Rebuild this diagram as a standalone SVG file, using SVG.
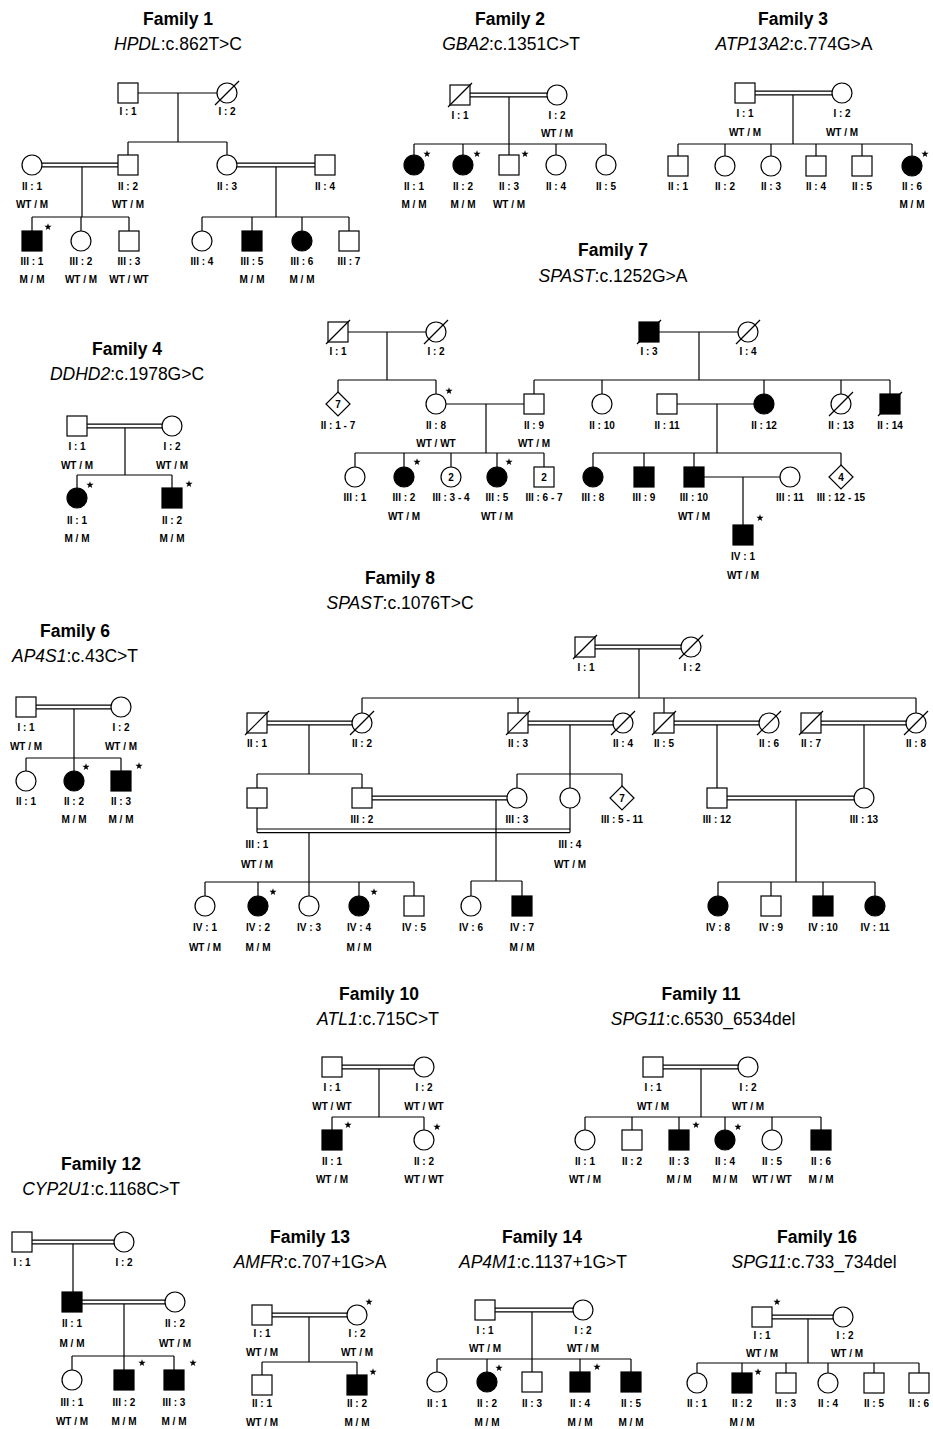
<svg xmlns="http://www.w3.org/2000/svg" xmlns:xlink="http://www.w3.org/1999/xlink" width="933" height="1429" viewBox="0 0 933 1429">
<style>
.l{stroke:#000;stroke-width:1.2;fill:none}
.o{fill:#fff;stroke:#000;stroke-width:1.2}
.f{fill:#000;stroke:#000;stroke-width:1.2}
.s{stroke:#000;stroke-width:1.2}
text{font-family:"Liberation Sans",Arial,Helvetica,sans-serif;fill:#000}
.t{font-size:17.5px;font-weight:bold;text-anchor:middle}
.g{font-size:17.5px;text-anchor:middle}
.k{font-size:10px;font-weight:bold;text-anchor:middle}
.i{font-style:italic}
</style>
<defs>
<path id="st" d="M0,-3.8L0.882,-1.214L3.614,-1.174L1.427,0.464L2.234,3.074L0,1.5L-2.234,3.074L-1.427,0.464L-3.614,-1.174L-0.882,-1.214Z" fill="#000"/>
</defs>
<rect width="933" height="1429" fill="#fff"/>

<g id="connectors">
<path id="c-f1" class="l" d="M138,93H217M178,93V142M128,142H227M128,142V155M227,142V155M42,163.2H118M42,166.8H118M82,166.8V217M32,217H129M32,217V231M81,217V231M129,217V231M237,163.2H315M237,166.8H315M276,166.8V217M202,217H349M202,217V231M252,217V231M302,217V231M349,217V231"/>
<path id="c-f2" class="l" d="M470,93.2H547M470,96.8H547M509,96.8V144M414,144H606M414,144V155M463,144V155M509,144V155M556,144V155M606,144V155"/>
<path id="c-f3" class="l" d="M755,91.2H832M755,94.8H832M793,94.8V144M678,144H912M678,144V156M725,144V156M771,144V156M816,144V156M862,144V156M912,144V156"/>
<path id="c-f4" class="l" d="M87,424.2H162M87,427.8H162M125,427.8V475M77,475H172M77,475V488M172,475V488"/>
<path id="c-f7" class="l" d="M348,332H426M387,332V380M338,380H436M338,380V392M436,380V394M446,404H524M486,404V453M355,453H544M355,453V467M404,453V467M451,453V467M497,453V467M544,453V467M659,332H738M699,332V380M534,380H890M534,380V394M602,380V394M764,380V394M841,380V394M890,380V394M677,404H754M717,404V453M593,453H841M593,453V467M644,453V467M694,453V467M841,453V465M704,477H780M743,477V525"/>
<path id="c-f6" class="l" d="M36,705.2H111M36,708.8H111M74,708.8V758M26,758H121M26,758V771M74,758V771M121,758V771"/>
<path id="c-f8" class="l" d="M595,645.2H681M595,648.8H681M639,648.8V698M362,698H916M362,698V713M518,698V713M664,698V713M916,698V713M267,721.2H352M267,724.8H352M309,724.8V774M257,774H362M257,774V788M362,774V788M528,721.2H613M528,724.8H613M570,724.8V774M517,774H622M517,774V788M570,774V788M622,774V786M674,721.2H759M674,724.8H759M717,724.8V788M821,721.2H906M821,724.8H906M864,724.8V788M372,796.2H507M372,799.8H507M496,799.8V881M471,881H522M471,881V896M522,881V896M257,808V832.6M570,808V832.6M257,829H570M257,832.6H570M309,832.6V882M205,882H414M205,882V896M258,882V896M309,882V896M359,882V896M414,882V896M727,796.2H854M727,799.8H854M796,799.8V882M718,882H875M718,882V896M771,882V896M823,882V896M875,882V896"/>
<path id="c-f10" class="l" d="M342,1065.2H414M342,1068.8H414M379,1068.8V1117M332,1117H424M332,1117V1130M424,1117V1130"/>
<path id="c-f11" class="l" d="M663,1065.2H738M663,1068.8H738M701,1068.8V1117M585,1117H821M585,1117V1130M632,1117V1130M679,1117V1130M725,1117V1130M772,1117V1130M821,1117V1130"/>
<path id="c-f12" class="l" d="M32,1240.2H114M32,1243.8H114M73,1243.8V1292M82,1300.2H165M82,1303.8H165M124,1303.8V1356M72,1356H174M72,1356V1370M124,1356V1370M174,1356V1370"/>
<path id="c-f13" class="l" d="M272,1313.2H347M272,1316.8H347M309,1316.8V1362M262,1362H357M262,1362V1375M357,1362V1375"/>
<path id="c-f14" class="l" d="M495,1308.2H573M495,1311.8H573M532,1311.8V1359M437,1359H631M437,1359V1372M487,1359V1372M532,1359V1372M580,1359V1372M631,1359V1372"/>
<path id="c-f16" class="l" d="M772,1315.2H833M772,1318.8H833M808,1318.8V1363M697,1363H919M697,1363V1373M742,1363V1373M786,1363V1373M828,1363V1373M874,1363V1373M919,1363V1373"/>
</g>

<g id="family1">
<text class="t" x="178" y="25">Family 1</text>
<text class="g" x="178" y="50"><tspan class="i">HPDL</tspan>:c.862T&gt;C</text>
<g id="f1-I-1"><rect class="o" x="118" y="83" width="20" height="20"/><text class="k" x="128" y="115">I : 1</text></g>
<g id="f1-I-2"><circle class="o" cx="227" cy="93" r="10"/><line class="s" x1="215" y1="105" x2="239" y2="81"/><text class="k" x="227" y="115">I : 2</text></g>
<g id="f1-II-1"><circle class="o" cx="32" cy="165" r="10"/><text class="k" x="32" y="190">II : 1</text><text class="k" x="32" y="208">WT / M</text></g>
<g id="f1-II-2"><rect class="o" x="118" y="155" width="20" height="20"/><text class="k" x="128" y="190">II : 2</text><text class="k" x="128" y="208">WT / M</text></g>
<g id="f1-II-3"><circle class="o" cx="227" cy="165" r="10"/><text class="k" x="227" y="190">II : 3</text></g>
<g id="f1-II-4"><rect class="o" x="315" y="155" width="20" height="20"/><text class="k" x="325" y="190">II : 4</text></g>
<g id="f1-III-1"><rect class="f" x="22" y="231" width="20" height="20"/><use href="#st" x="48" y="227"/><text class="k" x="32" y="265">III : 1</text><text class="k" x="32" y="283">M / M</text></g>
<g id="f1-III-2"><circle class="o" cx="81" cy="241" r="10"/><text class="k" x="81" y="265">III : 2</text><text class="k" x="81" y="283">WT / M</text></g>
<g id="f1-III-3"><rect class="o" x="119" y="231" width="20" height="20"/><text class="k" x="129" y="265">III : 3</text><text class="k" x="129" y="283">WT / WT</text></g>
<g id="f1-III-4"><circle class="o" cx="202" cy="241" r="10"/><text class="k" x="202" y="265">III : 4</text></g>
<g id="f1-III-5"><rect class="f" x="242" y="231" width="20" height="20"/><text class="k" x="252" y="265">III : 5</text><text class="k" x="252" y="283">M / M</text></g>
<g id="f1-III-6"><circle class="f" cx="302" cy="241" r="10"/><text class="k" x="302" y="265">III : 6</text><text class="k" x="302" y="283">M / M</text></g>
<g id="f1-III-7"><rect class="o" x="339" y="231" width="20" height="20"/><text class="k" x="349" y="265">III : 7</text></g>
</g>

<g id="family2">
<text class="t" x="510" y="25">Family 2</text>
<text class="g" x="511" y="50"><tspan class="i">GBA2</tspan>:c.1351C&gt;T</text>
<g id="f2-I-1"><rect class="o" x="450" y="85" width="20" height="20"/><line class="s" x1="448" y1="107" x2="472" y2="83"/><text class="k" x="460" y="119">I : 1</text></g>
<g id="f2-I-2"><circle class="o" cx="557" cy="95" r="10"/><text class="k" x="557" y="119">I : 2</text><text class="k" x="557" y="137">WT / M</text></g>
<g id="f2-II-1"><circle class="f" cx="414" cy="165" r="10"/><use href="#st" x="427" y="154"/><text class="k" x="414" y="190">II : 1</text><text class="k" x="414" y="208">M / M</text></g>
<g id="f2-II-2"><circle class="f" cx="463" cy="165" r="10"/><use href="#st" x="477" y="154"/><text class="k" x="463" y="190">II : 2</text><text class="k" x="463" y="208">M / M</text></g>
<g id="f2-II-3"><rect class="o" x="499" y="155" width="20" height="20"/><use href="#st" x="525" y="154"/><text class="k" x="509" y="190">II : 3</text><text class="k" x="509" y="208">WT / M</text></g>
<g id="f2-II-4"><circle class="o" cx="556" cy="165" r="10"/><text class="k" x="556" y="190">II : 4</text></g>
<g id="f2-II-5"><circle class="o" cx="606" cy="165" r="10"/><text class="k" x="606" y="190">II : 5</text></g>
</g>

<g id="family3">
<text class="t" x="793" y="25">Family 3</text>
<text class="g" x="794" y="50"><tspan class="i">ATP13A2</tspan>:c.774G&gt;A</text>
<g id="f3-I-1"><rect class="o" x="735" y="83" width="20" height="20"/><text class="k" x="745" y="117">I : 1</text><text class="k" x="745" y="136">WT / M</text></g>
<g id="f3-I-2"><circle class="o" cx="842" cy="93" r="10"/><text class="k" x="842" y="117">I : 2</text><text class="k" x="842" y="136">WT / M</text></g>
<g id="f3-II-1"><rect class="o" x="668" y="156" width="20" height="20"/><text class="k" x="678" y="190">II : 1</text></g>
<g id="f3-II-2"><circle class="o" cx="725" cy="166" r="10"/><text class="k" x="725" y="190">II : 2</text></g>
<g id="f3-II-3"><circle class="o" cx="771" cy="166" r="10"/><text class="k" x="771" y="190">II : 3</text></g>
<g id="f3-II-4"><rect class="o" x="806" y="156" width="20" height="20"/><text class="k" x="816" y="190">II : 4</text></g>
<g id="f3-II-5"><rect class="o" x="852" y="156" width="20" height="20"/><text class="k" x="862" y="190">II : 5</text></g>
<g id="f3-II-6"><circle class="f" cx="912" cy="166" r="10"/><use href="#st" x="925" y="154"/><text class="k" x="912" y="190">II : 6</text><text class="k" x="912" y="208">M / M</text></g>
</g>

<g id="family4">
<text class="t" x="127" y="355">Family 4</text>
<text class="g" x="127" y="380"><tspan class="i">DDHD2</tspan>:c.1978G&gt;C</text>
<g id="f4-I-1"><rect class="o" x="67" y="416" width="20" height="20"/><text class="k" x="77" y="450">I : 1</text><text class="k" x="77" y="469">WT / M</text></g>
<g id="f4-I-2"><circle class="o" cx="172" cy="426" r="10"/><text class="k" x="172" y="450">I : 2</text><text class="k" x="172" y="469">WT / M</text></g>
<g id="f4-II-1"><circle class="f" cx="77" cy="498" r="10"/><use href="#st" x="90" y="485"/><text class="k" x="77" y="524">II : 1</text><text class="k" x="77" y="542">M / M</text></g>
<g id="f4-II-2"><rect class="f" x="162" y="488" width="20" height="20"/><use href="#st" x="189" y="484"/><text class="k" x="172" y="524">II : 2</text><text class="k" x="172" y="542">M / M</text></g>
</g>

<g id="family7">
<text class="t" x="613" y="256">Family 7</text>
<text class="g" x="613" y="282"><tspan class="i">SPAST</tspan>:c.1252G&gt;A</text>
<g id="f7-I-1"><rect class="o" x="328" y="322" width="20" height="20"/><line class="s" x1="326" y1="344" x2="350" y2="320"/><text class="k" x="338" y="355">I : 1</text></g>
<g id="f7-I-2"><circle class="o" cx="436" cy="332" r="10"/><line class="s" x1="424" y1="344" x2="448" y2="320"/><text class="k" x="436" y="355">I : 2</text></g>
<g id="f7-I-3"><rect class="f" x="639" y="322" width="20" height="20"/><line class="s" x1="637" y1="344" x2="661" y2="320"/><text class="k" x="649" y="355">I : 3</text></g>
<g id="f7-I-4"><circle class="o" cx="748" cy="332" r="10"/><line class="s" x1="736" y1="344" x2="760" y2="320"/><text class="k" x="748" y="355">I : 4</text></g>
<g id="f7-II-1-7"><path class="o" d="M338,392L350,404L338,416L326,404Z"/><text class="k" x="338" y="408">7</text><text class="k" x="338" y="429">II : 1 - 7</text></g>
<g id="f7-II-8"><circle class="o" cx="436" cy="404" r="10"/><use href="#st" x="449" y="391"/><text class="k" x="436" y="429">II : 8</text><text class="k" x="436" y="447">WT / WT</text></g>
<g id="f7-II-9"><rect class="o" x="524" y="394" width="20" height="20"/><text class="k" x="534" y="429">II : 9</text><text class="k" x="534" y="447">WT / M</text></g>
<g id="f7-II-10"><circle class="o" cx="602" cy="404" r="10"/><text class="k" x="602" y="429">II : 10</text></g>
<g id="f7-II-11"><rect class="o" x="657" y="394" width="20" height="20"/><text class="k" x="667" y="429">II : 11</text></g>
<g id="f7-II-12"><circle class="f" cx="764" cy="404" r="10"/><text class="k" x="764" y="429">II : 12</text></g>
<g id="f7-II-13"><circle class="o" cx="841" cy="404" r="10"/><line class="s" x1="829" y1="416" x2="853" y2="392"/><text class="k" x="841" y="429">II : 13</text></g>
<g id="f7-II-14"><rect class="f" x="880" y="394" width="20" height="20"/><line class="s" x1="878" y1="416" x2="902" y2="392"/><text class="k" x="890" y="429">II : 14</text></g>
<g id="f7-III-1"><circle class="o" cx="355" cy="477" r="10"/><text class="k" x="355" y="501">III : 1</text></g>
<g id="f7-III-2"><circle class="f" cx="404" cy="477" r="10"/><use href="#st" x="417" y="462"/><text class="k" x="404" y="501">III : 2</text><text class="k" x="404" y="520">WT / M</text></g>
<g id="f7-III-3-4"><circle class="o" cx="451" cy="477" r="10"/><text class="k" x="451" y="481">2</text><text class="k" x="451" y="501">III : 3 - 4</text></g>
<g id="f7-III-5"><circle class="f" cx="497" cy="477" r="10"/><use href="#st" x="509" y="462"/><text class="k" x="497" y="501">III : 5</text><text class="k" x="497" y="520">WT / M</text></g>
<g id="f7-III-6-7"><rect class="o" x="534" y="467" width="20" height="20"/><text class="k" x="544" y="481">2</text><text class="k" x="544" y="501">III : 6 - 7</text></g>
<g id="f7-III-8"><circle class="f" cx="593" cy="477" r="10"/><text class="k" x="593" y="501">III : 8</text></g>
<g id="f7-III-9"><rect class="f" x="634" y="467" width="20" height="20"/><text class="k" x="644" y="501">III : 9</text></g>
<g id="f7-III-10"><rect class="f" x="684" y="467" width="20" height="20"/><text class="k" x="694" y="501">III : 10</text><text class="k" x="694" y="520">WT / M</text></g>
<g id="f7-III-11"><circle class="o" cx="790" cy="477" r="10"/><text class="k" x="790" y="501">III : 11</text></g>
<g id="f7-III-12-15"><path class="o" d="M841,465L853,477L841,489L829,477Z"/><text class="k" x="841" y="481">4</text><text class="k" x="841" y="501">III : 12 - 15</text></g>
<g id="f7-IV-1"><rect class="f" x="733" y="525" width="20" height="20"/><use href="#st" x="760" y="518"/><text class="k" x="743" y="560">IV : 1</text><text class="k" x="743" y="579">WT / M</text></g>
</g>

<g id="family6">
<text class="t" x="75" y="637">Family 6</text>
<text class="g" x="75" y="662"><tspan class="i">AP4S1</tspan>:c.43C&gt;T</text>
<g id="f6-I-1"><rect class="o" x="16" y="697" width="20" height="20"/><text class="k" x="26" y="731">I : 1</text><text class="k" x="26" y="750">WT / M</text></g>
<g id="f6-I-2"><circle class="o" cx="121" cy="707" r="10"/><text class="k" x="121" y="731">I : 2</text><text class="k" x="121" y="750">WT / M</text></g>
<g id="f6-II-1"><circle class="o" cx="26" cy="781" r="10"/><text class="k" x="26" y="805">II : 1</text></g>
<g id="f6-II-2"><circle class="f" cx="74" cy="781" r="10"/><use href="#st" x="86" y="767"/><text class="k" x="74" y="805">II : 2</text><text class="k" x="74" y="823">M / M</text></g>
<g id="f6-II-3"><rect class="f" x="111" y="771" width="20" height="20"/><use href="#st" x="139" y="766"/><text class="k" x="121" y="805">II : 3</text><text class="k" x="121" y="823">M / M</text></g>
</g>

<g id="family8">
<text class="t" x="400" y="584">Family 8</text>
<text class="g" x="400" y="609"><tspan class="i">SPAST</tspan>:c.1076T&gt;C</text>
<g id="f8-I-1"><rect class="o" x="575" y="637" width="20" height="20"/><line class="s" x1="573" y1="659" x2="597" y2="635"/><text class="k" x="586" y="671">I : 1</text></g>
<g id="f8-I-2"><circle class="o" cx="691" cy="647" r="10"/><line class="s" x1="679" y1="659" x2="703" y2="635"/><text class="k" x="692" y="671">I : 2</text></g>
<g id="f8-II-1"><rect class="o" x="247" y="713" width="20" height="20"/><line class="s" x1="245" y1="735" x2="269" y2="711"/><text class="k" x="257" y="747">II : 1</text></g>
<g id="f8-II-2"><circle class="o" cx="362" cy="723" r="10"/><line class="s" x1="350" y1="735" x2="374" y2="711"/><text class="k" x="362" y="747">II : 2</text></g>
<g id="f8-II-3"><rect class="o" x="508" y="713" width="20" height="20"/><line class="s" x1="506" y1="735" x2="530" y2="711"/><text class="k" x="518" y="747">II : 3</text></g>
<g id="f8-II-4"><circle class="o" cx="623" cy="723" r="10"/><line class="s" x1="611" y1="735" x2="635" y2="711"/><text class="k" x="623" y="747">II : 4</text></g>
<g id="f8-II-5"><rect class="o" x="654" y="713" width="20" height="20"/><line class="s" x1="652" y1="735" x2="676" y2="711"/><text class="k" x="664" y="747">II : 5</text></g>
<g id="f8-II-6"><circle class="o" cx="769" cy="723" r="10"/><line class="s" x1="757" y1="735" x2="781" y2="711"/><text class="k" x="769" y="747">II : 6</text></g>
<g id="f8-II-7"><rect class="o" x="801" y="713" width="20" height="20"/><line class="s" x1="799" y1="735" x2="823" y2="711"/><text class="k" x="811" y="747">II : 7</text></g>
<g id="f8-II-8"><circle class="o" cx="916" cy="723" r="10"/><line class="s" x1="904" y1="735" x2="928" y2="711"/><text class="k" x="916" y="747">II : 8</text></g>
<g id="f8-III-1"><rect class="o" x="247" y="788" width="20" height="20"/><text class="k" x="257" y="848">III : 1</text><text class="k" x="257" y="868">WT / M</text></g>
<g id="f8-III-2"><rect class="o" x="352" y="788" width="20" height="20"/><text class="k" x="362" y="823">III : 2</text></g>
<g id="f8-III-3"><circle class="o" cx="517" cy="798" r="10"/><text class="k" x="517" y="823">III : 3</text></g>
<g id="f8-III-4"><circle class="o" cx="570" cy="798" r="10"/><text class="k" x="570" y="848">III : 4</text><text class="k" x="570" y="868">WT / M</text></g>
<g id="f8-III-5-11"><path class="o" d="M622,786L634,798L622,810L610,798Z"/><text class="k" x="622" y="802">7</text><text class="k" x="622" y="823">III : 5 - 11</text></g>
<g id="f8-III-12"><rect class="o" x="707" y="788" width="20" height="20"/><text class="k" x="717" y="823">III : 12</text></g>
<g id="f8-III-13"><circle class="o" cx="864" cy="798" r="10"/><text class="k" x="864" y="823">III : 13</text></g>
<g id="f8-IV-1"><circle class="o" cx="205" cy="906" r="10"/><text class="k" x="205" y="931">IV : 1</text><text class="k" x="205" y="951">WT / M</text></g>
<g id="f8-IV-2"><circle class="f" cx="258" cy="906" r="10"/><use href="#st" x="273" y="892"/><text class="k" x="258" y="931">IV : 2</text><text class="k" x="258" y="951">M / M</text></g>
<g id="f8-IV-3"><circle class="o" cx="309" cy="906" r="10"/><text class="k" x="309" y="931">IV : 3</text></g>
<g id="f8-IV-4"><circle class="f" cx="359" cy="906" r="10"/><use href="#st" x="374" y="892"/><text class="k" x="359" y="931">IV : 4</text><text class="k" x="359" y="951">M / M</text></g>
<g id="f8-IV-5"><rect class="o" x="404" y="896" width="20" height="20"/><text class="k" x="414" y="931">IV : 5</text></g>
<g id="f8-IV-6"><circle class="o" cx="471" cy="906" r="10"/><text class="k" x="471" y="931">IV : 6</text></g>
<g id="f8-IV-7"><rect class="f" x="512" y="896" width="20" height="20"/><text class="k" x="522" y="931">IV : 7</text><text class="k" x="522" y="951">M / M</text></g>
<g id="f8-IV-8"><circle class="f" cx="718" cy="906" r="10"/><text class="k" x="718" y="931">IV : 8</text></g>
<g id="f8-IV-9"><rect class="o" x="761" y="896" width="20" height="20"/><text class="k" x="771" y="931">IV : 9</text></g>
<g id="f8-IV-10"><rect class="f" x="813" y="896" width="20" height="20"/><text class="k" x="823" y="931">IV : 10</text></g>
<g id="f8-IV-11"><circle class="f" cx="875" cy="906" r="10"/><text class="k" x="875" y="931">IV : 11</text></g>
</g>

<g id="family10">
<text class="t" x="379" y="1000">Family 10</text>
<text class="g" x="378" y="1025"><tspan class="i">ATL1</tspan>:c.715C&gt;T</text>
<g id="f10-I-1"><rect class="o" x="322" y="1057" width="20" height="20"/><text class="k" x="332" y="1091">I : 1</text><text class="k" x="332" y="1110">WT / WT</text></g>
<g id="f10-I-2"><circle class="o" cx="424" cy="1067" r="10"/><text class="k" x="424" y="1091">I : 2</text><text class="k" x="424" y="1110">WT / WT</text></g>
<g id="f10-II-1"><rect class="f" x="322" y="1130" width="20" height="20"/><use href="#st" x="348" y="1125"/><text class="k" x="332" y="1165">II : 1</text><text class="k" x="332" y="1183">WT / M</text></g>
<g id="f10-II-2"><circle class="o" cx="424" cy="1140" r="10"/><use href="#st" x="437" y="1127"/><text class="k" x="424" y="1165">II : 2</text><text class="k" x="424" y="1183">WT / WT</text></g>
</g>

<g id="family11">
<text class="t" x="701" y="1000">Family 11</text>
<text class="g" x="703" y="1025"><tspan class="i">SPG11</tspan>:c.6530_6534del</text>
<g id="f11-I-1"><rect class="o" x="643" y="1057" width="20" height="20"/><text class="k" x="653" y="1091">I : 1</text><text class="k" x="653" y="1110">WT / M</text></g>
<g id="f11-I-2"><circle class="o" cx="748" cy="1067" r="10"/><text class="k" x="748" y="1091">I : 2</text><text class="k" x="748" y="1110">WT / M</text></g>
<g id="f11-II-1"><circle class="o" cx="585" cy="1140" r="10"/><text class="k" x="585" y="1165">II : 1</text><text class="k" x="585" y="1183">WT / M</text></g>
<g id="f11-II-2"><rect class="o" x="622" y="1130" width="20" height="20"/><text class="k" x="632" y="1165">II : 2</text></g>
<g id="f11-II-3"><rect class="f" x="669" y="1130" width="20" height="20"/><use href="#st" x="696" y="1125"/><text class="k" x="679" y="1165">II : 3</text><text class="k" x="679" y="1183">M / M</text></g>
<g id="f11-II-4"><circle class="f" cx="725" cy="1140" r="10"/><use href="#st" x="738" y="1127"/><text class="k" x="725" y="1165">II : 4</text><text class="k" x="725" y="1183">M / M</text></g>
<g id="f11-II-5"><circle class="o" cx="772" cy="1140" r="10"/><text class="k" x="772" y="1165">II : 5</text><text class="k" x="772" y="1183">WT / WT</text></g>
<g id="f11-II-6"><rect class="f" x="811" y="1130" width="20" height="20"/><text class="k" x="821" y="1165">II : 6</text><text class="k" x="821" y="1183">M / M</text></g>
</g>

<g id="family12">
<text class="t" x="101" y="1170">Family 12</text>
<text class="g" x="101" y="1195"><tspan class="i">CYP2U1</tspan>:c.1168C&gt;T</text>
<g id="f12-I-1"><rect class="o" x="12" y="1232" width="20" height="20"/><text class="k" x="22" y="1266">I : 1</text></g>
<g id="f12-I-2"><circle class="o" cx="124" cy="1242" r="10"/><text class="k" x="124" y="1266">I : 2</text></g>
<g id="f12-II-1"><rect class="f" x="62" y="1292" width="20" height="20"/><text class="k" x="72" y="1327">II : 1</text><text class="k" x="72" y="1347">M / M</text></g>
<g id="f12-II-2"><circle class="o" cx="175" cy="1302" r="10"/><text class="k" x="175" y="1327">II : 2</text><text class="k" x="175" y="1347">WT / M</text></g>
<g id="f12-III-1"><circle class="o" cx="72" cy="1380" r="10"/><text class="k" x="72" y="1406">III : 1</text><text class="k" x="72" y="1425">WT / M</text></g>
<g id="f12-III-2"><rect class="f" x="114" y="1370" width="20" height="20"/><use href="#st" x="142" y="1363"/><text class="k" x="124" y="1406">III : 2</text><text class="k" x="124" y="1425">M / M</text></g>
<g id="f12-III-3"><rect class="f" x="164" y="1370" width="20" height="20"/><use href="#st" x="193" y="1363"/><text class="k" x="174" y="1406">III : 3</text><text class="k" x="174" y="1425">M / M</text></g>
</g>

<g id="family13">
<text class="t" x="310" y="1243">Family 13</text>
<text class="g" x="310" y="1268"><tspan class="i">AMFR</tspan>:c.707+1G&gt;A</text>
<g id="f13-I-1"><rect class="o" x="252" y="1305" width="20" height="20"/><text class="k" x="262" y="1337">I : 1</text><text class="k" x="262" y="1356">WT / M</text></g>
<g id="f13-I-2"><circle class="o" cx="357" cy="1315" r="10"/><use href="#st" x="369" y="1302"/><text class="k" x="357" y="1337">I : 2</text><text class="k" x="357" y="1356">WT / M</text></g>
<g id="f13-II-1"><rect class="o" x="252" y="1375" width="20" height="20"/><text class="k" x="262" y="1407">II : 1</text><text class="k" x="262" y="1426">WT / M</text></g>
<g id="f13-II-2"><rect class="f" x="347" y="1375" width="20" height="20"/><use href="#st" x="373" y="1372"/><text class="k" x="357" y="1407">II : 2</text><text class="k" x="357" y="1426">M / M</text></g>
</g>

<g id="family14">
<text class="t" x="542" y="1243">Family 14</text>
<text class="g" x="543" y="1268"><tspan class="i">AP4M1</tspan>:c.1137+1G&gt;T</text>
<g id="f14-I-1"><rect class="o" x="475" y="1300" width="20" height="20"/><text class="k" x="485" y="1334">I : 1</text><text class="k" x="485" y="1352">WT / M</text></g>
<g id="f14-I-2"><circle class="o" cx="583" cy="1310" r="10"/><text class="k" x="583" y="1334">I : 2</text><text class="k" x="583" y="1352">WT / M</text></g>
<g id="f14-II-1"><circle class="o" cx="437" cy="1382" r="10"/><text class="k" x="437" y="1407">II : 1</text></g>
<g id="f14-II-2"><circle class="f" cx="487" cy="1382" r="10"/><use href="#st" x="499" y="1368"/><text class="k" x="487" y="1407">II : 2</text><text class="k" x="487" y="1426">M / M</text></g>
<g id="f14-II-3"><rect class="o" x="522" y="1372" width="20" height="20"/><text class="k" x="532" y="1407">II : 3</text></g>
<g id="f14-II-4"><rect class="f" x="570" y="1372" width="20" height="20"/><use href="#st" x="597" y="1367"/><text class="k" x="580" y="1407">II : 4</text><text class="k" x="580" y="1426">M / M</text></g>
<g id="f14-II-5"><rect class="f" x="621" y="1372" width="20" height="20"/><text class="k" x="631" y="1407">II : 5</text><text class="k" x="631" y="1426">M / M</text></g>
</g>

<g id="family16">
<text class="t" x="817" y="1243">Family 16</text>
<text class="g" x="814" y="1268"><tspan class="i">SPG11</tspan>:c.733_734del</text>
<g id="f16-I-1"><rect class="o" x="752" y="1307" width="20" height="20"/><use href="#st" x="777" y="1302"/><text class="k" x="762" y="1339">I : 1</text><text class="k" x="762" y="1357">WT / M</text></g>
<g id="f16-I-2"><circle class="o" cx="843" cy="1317" r="10"/><text class="k" x="845" y="1339">I : 2</text><text class="k" x="847" y="1357">WT / M</text></g>
<g id="f16-II-1"><circle class="o" cx="697" cy="1383" r="10"/><text class="k" x="697" y="1407">II : 1</text></g>
<g id="f16-II-2"><rect class="f" x="732" y="1373" width="20" height="20"/><use href="#st" x="758" y="1372"/><text class="k" x="742" y="1407">II : 2</text><text class="k" x="742" y="1426">M / M</text></g>
<g id="f16-II-3"><rect class="o" x="776" y="1373" width="20" height="20"/><text class="k" x="786" y="1407">II : 3</text></g>
<g id="f16-II-4"><circle class="o" cx="828" cy="1383" r="10"/><text class="k" x="828" y="1407">II : 4</text></g>
<g id="f16-II-5"><rect class="o" x="864" y="1373" width="20" height="20"/><text class="k" x="874" y="1407">II : 5</text></g>
<g id="f16-II-6"><rect class="o" x="909" y="1373" width="20" height="20"/><text class="k" x="919" y="1407">II : 6</text></g>
</g>
</svg>
